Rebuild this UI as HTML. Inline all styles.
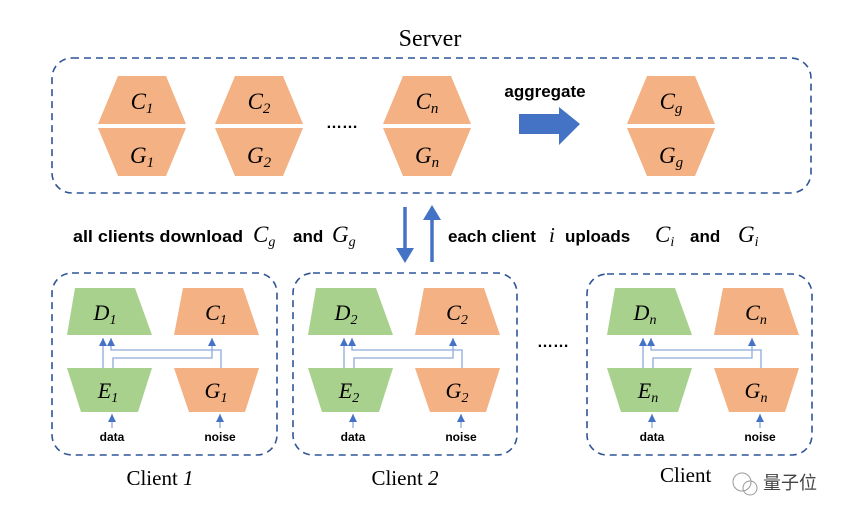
<!DOCTYPE html>
<html><head><meta charset="utf-8"><style>
html,body{margin:0;padding:0;background:#fff;}
svg{display:block;}
.s{font-family:"Liberation Serif",serif;font-style:italic;}
.b{font-family:"Liberation Sans",sans-serif;font-weight:bold;}
</style></head><body>
<svg width="852" height="518" viewBox="0 0 852 518" xmlns="http://www.w3.org/2000/svg">
<defs>
<marker id="ah" markerWidth="8" markerHeight="8" refX="8" refY="4" orient="auto" markerUnits="userSpaceOnUse">
<path d="M0,0 L8,4 L0,8 Z" fill="#4472c4"/></marker>
<g id="hex">
<polygon points="-24,-50 24,-50 44,-2 -44,-2" fill="#f4b183"/>
<polygon points="-44,2 44,2 24,50 -24,50" fill="#f4b183"/>
</g>
<g id="client">
<polygon points="75,288 135,288 152,335 67,335" fill="#a9d18e"/>
<polygon points="183,288 243,288 259,335 174,335" fill="#f4b183"/>
<polygon points="67,368 152,368 138,412 81,412" fill="#a9d18e"/>
<polygon points="174,368 259,368 245,412 189,412" fill="#f4b183"/>
<g fill="none" stroke="#8faadc" stroke-width="1.3">
<path d="M103,368 V338" marker-end="url(#ah)"/>
<path d="M221,368 V350 H111 V338" marker-end="url(#ah)"/>
<path d="M113,368 V358 H212 V338" marker-end="url(#ah)"/>
<path d="M112,428 V414" marker-end="url(#ah)"/>
<path d="M220,428 V414" marker-end="url(#ah)"/>
</g>
<text x="112" y="441" class="b" font-size="12" text-anchor="middle">data</text>
<text x="220" y="441" class="b" font-size="12" text-anchor="middle">noise</text>
</g>
</defs>

<text x="430" y="46" font-family="Liberation Serif,serif" font-size="24" text-anchor="middle">Server</text>
<rect x="52" y="58" width="759" height="135" rx="20" fill="none" stroke="#2f5597" stroke-width="1.6" stroke-dasharray="7,5"/>

<use href="#hex" x="142" y="126"/>
<use href="#hex" x="259" y="126"/>
<use href="#hex" x="427" y="126"/>
<use href="#hex" x="671" y="126"/>
<g class="s" font-size="23" text-anchor="middle">
<text x="142" y="109">C<tspan font-size="15" dy="4">1</tspan></text>
<text x="142" y="163">G<tspan font-size="15" dy="4">1</tspan></text>
<text x="259" y="109">C<tspan font-size="15" dy="4">2</tspan></text>
<text x="259" y="163">G<tspan font-size="15" dy="4">2</tspan></text>
<text x="427" y="109">C<tspan font-size="15" dy="4">n</tspan></text>
<text x="427" y="163">G<tspan font-size="15" dy="4">n</tspan></text>
<text x="671" y="109">C<tspan font-size="15" dy="4">g</tspan></text>
<text x="671" y="163">G<tspan font-size="15" dy="4">g</tspan></text>
</g>
<text x="342" y="128" class="b" font-size="16" text-anchor="middle">……</text>
<text x="545" y="97" class="b" font-size="17" text-anchor="middle">aggregate</text>
<polygon points="519,114 559,114 559,107 580,124 559,145 559,134 519,134" fill="#4472c4"/>

<path d="M405,207 V252" stroke="#4472c4" stroke-width="3.5"/>
<polygon points="396,248 414,248 405,263" fill="#4472c4"/>
<path d="M432,262 V216" stroke="#4472c4" stroke-width="3.5"/>
<polygon points="423,220 441,220 432,205" fill="#4472c4"/>

<text x="73" y="242" class="b" font-size="17" textLength="170" lengthAdjust="spacingAndGlyphs">all clients download</text>
<text x="253" y="242" class="s" font-size="23">C<tspan font-size="14" dy="4">g</tspan></text>
<text x="293" y="242" class="b" font-size="17">and</text>
<text x="332" y="242" class="s" font-size="23">G<tspan font-size="14" dy="4">g</tspan></text>

<text x="448" y="242" class="b" font-size="17">each client</text>
<text x="549" y="242" class="s" font-size="21">i</text>
<text x="565" y="242" class="b" font-size="17">uploads</text>
<text x="655" y="242" class="s" font-size="23">C<tspan font-size="14" dy="4">i</tspan></text>
<text x="690" y="242" class="b" font-size="17">and</text>
<text x="738" y="242" class="s" font-size="23">G<tspan font-size="14" dy="4">i</tspan></text>

<rect x="52" y="273" width="225" height="182" rx="20" fill="none" stroke="#2f5597" stroke-width="1.6" stroke-dasharray="7,5"/>
<rect x="293" y="273" width="224" height="182" rx="20" fill="none" stroke="#2f5597" stroke-width="1.6" stroke-dasharray="7,5"/>
<rect x="587" y="274" width="225" height="181" rx="20" fill="none" stroke="#2f5597" stroke-width="1.6" stroke-dasharray="7,5"/>
<use href="#client" x="0" y="0"/>
<use href="#client" x="241" y="0"/>
<use href="#client" x="540" y="0"/>
<g class="s" font-size="22" text-anchor="middle">
<text x="105" y="320">D<tspan font-size="14" dy="4">1</tspan></text>
<text x="216" y="320">C<tspan font-size="14" dy="4">1</tspan></text>
<text x="108" y="398">E<tspan font-size="14" dy="4">1</tspan></text>
<text x="216" y="398">G<tspan font-size="14" dy="4">1</tspan></text>
<text x="346" y="320">D<tspan font-size="14" dy="4">2</tspan></text>
<text x="457" y="320">C<tspan font-size="14" dy="4">2</tspan></text>
<text x="349" y="398">E<tspan font-size="14" dy="4">2</tspan></text>
<text x="457" y="398">G<tspan font-size="14" dy="4">2</tspan></text>
<text x="645" y="320">D<tspan font-size="14" dy="4">n</tspan></text>
<text x="756" y="320">C<tspan font-size="14" dy="4">n</tspan></text>
<text x="648" y="398">E<tspan font-size="14" dy="4">n</tspan></text>
<text x="756" y="398">G<tspan font-size="14" dy="4">n</tspan></text>
</g>
<text x="553" y="347" class="b" font-size="16" text-anchor="middle">……</text>

<text x="160" y="485" font-family="Liberation Serif,serif" font-size="21" text-anchor="middle">Client <tspan font-style="italic">1</tspan></text>
<text x="405" y="485" font-family="Liberation Serif,serif" font-size="21" text-anchor="middle">Client <tspan font-style="italic">2</tspan></text>
<text x="660" y="482" font-family="Liberation Serif,serif" font-size="21">Client</text>
<text x="763" y="489" font-family="Liberation Sans,'Noto Sans CJK SC',sans-serif" font-size="18" fill="#444">量子位</text>
<circle cx="742" cy="482" r="9" fill="none" stroke="#999" stroke-width="1"/>
<circle cx="750" cy="488" r="7" fill="none" stroke="#999" stroke-width="1"/>
</svg>
</body></html>
